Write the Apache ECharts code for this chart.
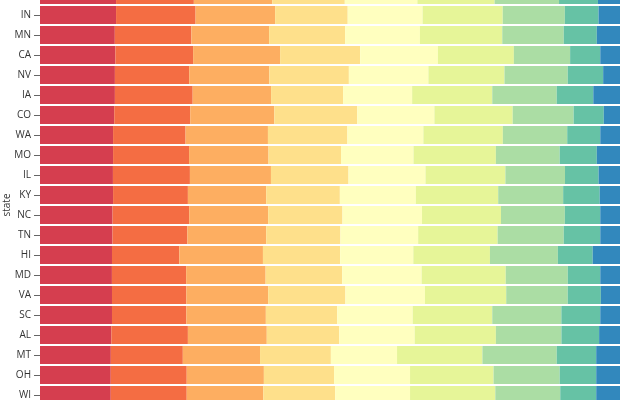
<!DOCTYPE html>
<html>
<head>
<meta charset="utf-8">
<script src="https://cdn.jsdelivr.net/npm/echarts@6/dist/echarts.min.js"></script>
<style>
  html, body { margin: 0; padding: 0; background: #fff; }
  #chart { width: 640px; height: 400px; }
</style>
</head>
<body>
<div id="chart"></div>
<script>
// states, top to bottom (first row is only partly visible)
var states = ['AR', 'IN', 'MN', 'CA', 'NV', 'IA', 'CO', 'WA', 'MO', 'IL', 'KY',
              'NC', 'TN', 'HI', 'MD', 'VA', 'SC', 'AL', 'MT', 'OH', 'WI'];

var ageGroups = ['<10', '10-19', '20-29', '30-39', '40-49', '50-59', '60-69', '70-79', '≥80'];

// share of population per age group (%), one value per state
var age0to9   = [13.1, 13.1, 12.9, 13.0, 12.9, 12.9, 12.8, 12.6, 12.6, 12.6, 12.6, 12.5, 12.5, 12.4, 12.4, 12.4, 12.4, 12.3, 12.2, 12.2, 12.2];
var age10to19 = [13.4, 13.7, 13.2, 13.4, 12.8, 13.4, 13.1, 12.5, 13.1, 13.3, 12.9, 13.2, 12.9, 11.6, 12.8, 12.8, 12.8, 13.2, 12.4, 13.1, 13.1];
var age20to29 = [13.5, 13.7, 13.4, 15.0, 13.8, 13.5, 14.5, 14.2, 13.7, 14.0, 13.5, 13.6, 13.6, 14.4, 13.7, 14.1, 13.7, 13.6, 13.3, 13.3, 13.2];
var age30to39 = [12.5, 12.5, 13.1, 13.8, 13.7, 12.4, 14.3, 13.7, 12.5, 13.4, 12.7, 12.8, 12.8, 13.3, 13.2, 13.3, 12.3, 12.5, 12.2, 12.1, 12.4];
var age40to49 = [12.5, 12.9, 12.9, 13.4, 13.7, 11.9, 13.3, 13.1, 12.5, 13.3, 13.1, 13.7, 13.4, 12.6, 13.7, 13.7, 13.0, 13.0, 11.4, 13.1, 12.9];
var age50to59 = [13.3, 13.8, 14.2, 13.1, 13.1, 13.8, 13.5, 13.7, 14.2, 13.8, 14.2, 13.6, 13.7, 13.2, 14.5, 14.0, 13.7, 14.0, 14.7, 14.4, 14.7];
var age60to69 = [11.1, 10.7, 10.6, 9.7, 10.9, 11.1, 10.5, 11.1, 11.0, 10.3, 11.2, 11.0, 11.4, 11.7, 10.7, 10.6, 11.9, 11.3, 12.8, 11.4, 11.2];
var age70to79 = [6.7, 5.8, 5.7, 5.2, 6.1, 6.3, 5.2, 5.7, 6.4, 5.8, 6.3, 6.1, 6.3, 6.0, 5.6, 5.7, 6.7, 6.5, 6.8, 6.3, 6.2];
var age80plus = [3.8, 3.7, 4.0, 3.4, 2.9, 4.6, 2.8, 3.4, 4.0, 3.7, 3.5, 3.4, 3.4, 4.7, 3.4, 3.3, 3.4, 3.6, 4.1, 4.1, 4.1];

var groupValues = [age0to9, age10to19, age20to29, age30to39, age40to49,
                   age50to59, age60to69, age70to79, age80plus];

// spectral scheme, 9 classes
var colors = ['#d53e4f', '#f46d43', '#fdae61', '#fee08b', '#ffffbf',
              '#e6f598', '#abdda4', '#66c2a5', '#3288bd'];

// normalise every row to 1
var totals = states.map(function (s, i) {
    return groupValues.reduce(function (acc, arr) { return acc + arr[i]; }, 0);
});

var series = ageGroups.map(function (name, g) {
    return {
        name: name,
        type: 'bar',
        stack: 'total',
        barWidth: 18,
        itemStyle: { color: colors[g] },
        data: groupValues[g].map(function (v, i) { return v / totals[i]; })
    };
});

var chart = echarts.init(document.getElementById('chart'), null, { renderer: 'canvas' });
chart.setOption({
    backgroundColor: '#fff',
    animation: false,
    grid: { left: 40, right: 20, top: -15, bottom: -5, outerBoundsMode: 'none' },
    xAxis: { type: 'value', min: 0, max: 1, show: false },
    yAxis: {
        type: 'category',
        data: states,
        inverse: true,
        axisLine: { show: false },
        axisTick: { show: true, length: 6, lineStyle: { color: '#666' }, alignWithLabel: true },
        axisLabel: { margin: 9, fontSize: 10, color: '#333', fontFamily: 'Open Sans' }
    },
    graphic: [{
        type: 'text',
        x: 7,
        y: 205,
        rotation: Math.PI / 2,
        style: {
            text: 'state',
            fontSize: 10,
            fontFamily: 'Open Sans',
            fill: '#333',
            align: 'center',
            verticalAlign: 'middle'
        }
    }],
    series: series
});
</script>
</body>
</html>
